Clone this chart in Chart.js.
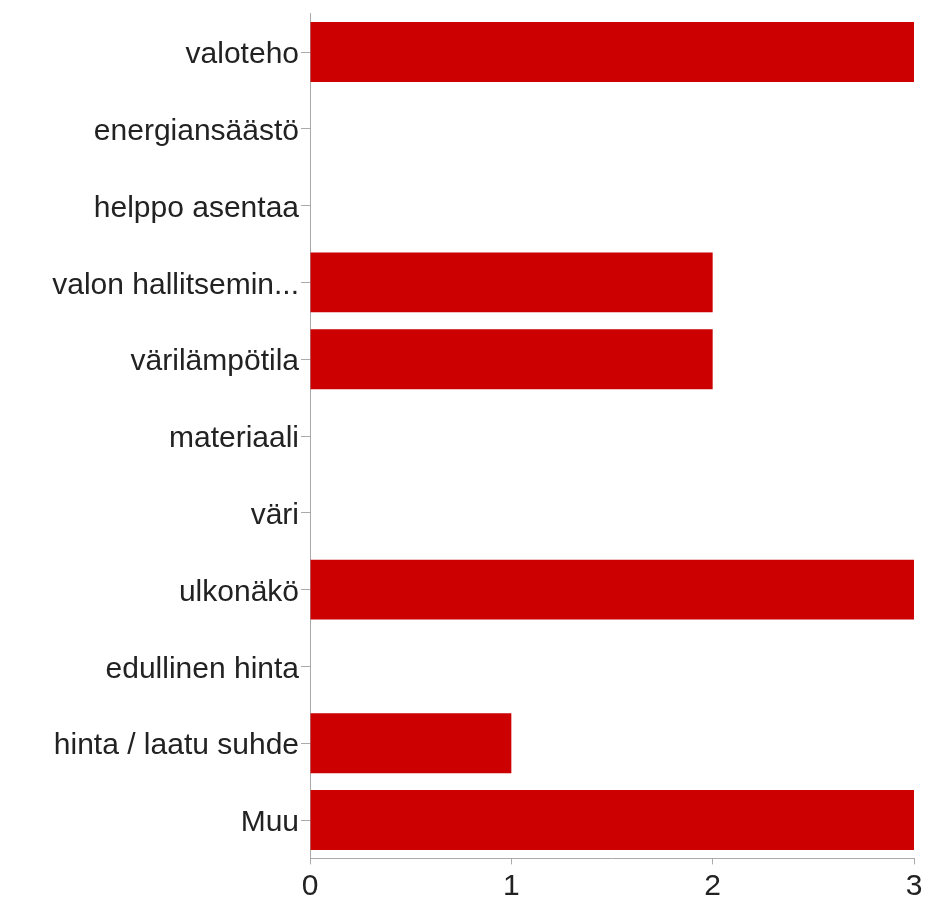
<!DOCTYPE html>
<html>
<head>
<meta charset="utf-8">
<script src="https://cdn.jsdelivr.net/npm/chart.js@4/dist/chart.umd.min.js"></script>
<style>
  html, body { margin: 0; padding: 0; background: #fff; }
  #wrap { width: 943px; height: 906px; }
</style>
</head>
<body>
<div id="wrap"><canvas id="chart" width="943" height="906"></canvas></div>
<script>
// answers per option
const categories = [
  'valoteho',
  'energiansäästö',
  'helppo asentaa',
  'valon hallitsemin...',
  'värilämpötila',
  'materiaali',
  'väri',
  'ulkonäkö',
  'edullinen hinta',
  'hinta / laatu suhde',
  'Muu'
]
const counts = [3, 0, 0, 2, 2, 0, 0, 3, 0, 1, 3]
const xTicks = [0, 1, 2, 3]

const axisGrey = '#aaaaaa'
const labelFont = { family: 'Liberation Sans, Arial, Helvetica, sans-serif', size: 30 }

const ctx = document.getElementById('chart').getContext('2d')

new Chart(ctx, {
  type: 'bar',
  data: {
    labels: categories,
    datasets: [{
      data: counts,
      backgroundColor: '#cc0000',
      borderWidth: 0,
      categoryPercentage: 0.78,
      barPercentage: 1
    }]
  },
  options: {
    indexAxis: 'y',
    responsive: false,
    animation: false,
    layout: { padding: { top: 13.6, right: 29, bottom: 0, left: 0 } },
    plugins: {
      legend: { display: false },
      tooltip: { enabled: false }
    },
    scales: {
      x: {
        min: 0,
        max: 3,
        afterBuildTicks: (scale) => { scale.ticks = xTicks.map(v => ({ value: v })) },
        afterFit: (scale) => { scale.height = 47.6 },
        grid: {
          drawOnChartArea: false,
          drawTicks: true,
          tickLength: 6,
          color: axisGrey
        },
        border: { display: true, color: axisGrey, width: 1 },
        ticks: {
          color: '#222',
          font: labelFont,
          padding: 4,
          maxRotation: 0
        }
      },
      y: {
        afterFit: (scale) => {
          scale.width = 310
          scale.paddingTop = 0
          scale.paddingBottom = 0
        },
        grid: {
          offset: false,
          drawOnChartArea: false,
          drawTicks: true,
          tickLength: 9,
          color: axisGrey
        },
        border: { display: true, color: axisGrey, width: 1 },
        ticks: {
          color: '#222',
          font: labelFont,
          padding: 2,
          labelOffset: 3,
          autoSkip: false
        }
      }
    }
  }
})
</script>
</body>
</html>
